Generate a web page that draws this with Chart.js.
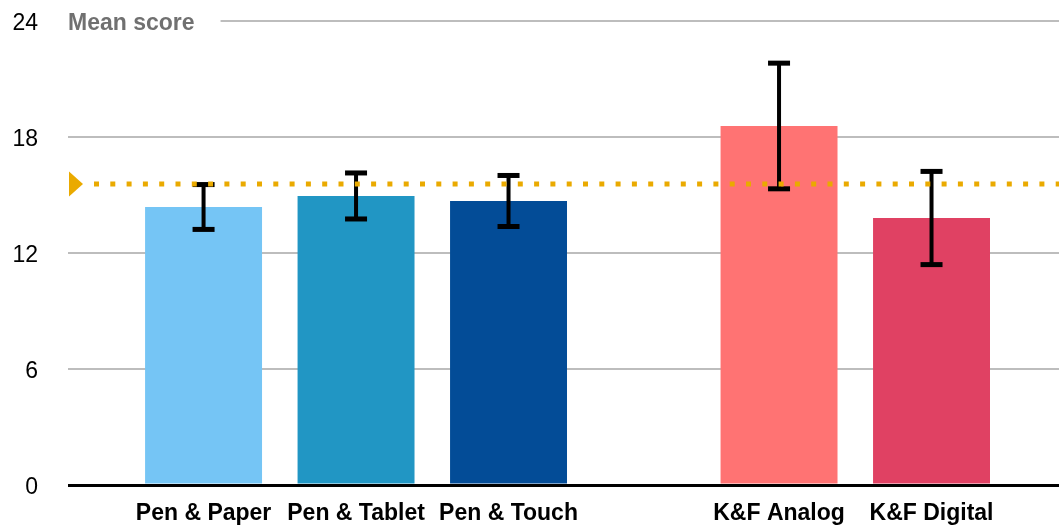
<!DOCTYPE html>
<html>
<head>
<meta charset="utf-8">
<script src="https://cdn.jsdelivr.net/npm/chart.js@4"></script>
<style>
  html, body { margin: 0; padding: 0; background: #ffffff; overflow: hidden; }
  #wrap { width: 1059px; height: 525px; position: relative; }
  canvas { display: block; }
</style>
</head>
<body>
<div id="wrap"><canvas id="chart" width="1059" height="525"></canvas></div>
<script>
// Chart data
const categories = ['Pen & Paper', 'Pen & Tablet', 'Pen & Touch', 'K&F Analog', 'K&F Digital'];
const groups = [0, 0, 0, 1, 1];
const meanScores = [14.38, 14.95, 14.69, 18.57, 13.81];
const errorMargins = [1.16, 1.19, 1.32, 3.25, 2.41];
const referenceScore = 15.57;
const yTicks = [0, 6, 12, 18, 24];
const axisTitle = 'Mean score';

// Styling
const barColors = ['#75C5F5', '#2196C4', '#034C97', '#FF7373', '#E04163'];
const FONT = '"Liberation Sans", Helvetica, Arial, sans-serif';
const groupGap = 0.774;   // extra space between the two groups, in category units

const positions = categories.map((_, i) => i + groups[i] * groupGap);

// Title text sitting on the top grid line
const titlePlugin = {
  id: 'axisTitle',
  beforeDatasetsDraw(chart) {
    const { ctx, chartArea, scales } = chart;
    const y = scales.y.getPixelForValue(yTicks[yTicks.length - 1]);
    ctx.save();
    ctx.font = 'bold 23px ' + FONT;
    const w = ctx.measureText(axisTitle).width;
    ctx.fillStyle = '#ffffff';
    ctx.fillRect(chartArea.left - 2, y - 6, w + 28, 12);
    ctx.fillStyle = '#707070';
    ctx.textAlign = 'left';
    ctx.textBaseline = 'middle';
    ctx.fillText(axisTitle, chartArea.left, y + 2.5);
    ctx.restore();
  }
};

// Error bars and the dotted reference line
const overlayPlugin = {
  id: 'overlay',
  afterDatasetsDraw(chart) {
    const { ctx, chartArea, scales } = chart;
    const yS = scales.y;
    const meta = chart.getDatasetMeta(0);
    ctx.save();
    ctx.fillStyle = '#000000';
    meta.data.forEach((bar, i) => {
      const hi = yS.getPixelForValue(meanScores[i] + errorMargins[i]);
      const lo = yS.getPixelForValue(meanScores[i] - errorMargins[i]);
      const x = bar.x;
      ctx.fillRect(x - 2, hi, 4, lo - hi);
      ctx.fillRect(x - 11, hi - 2.5, 22, 5);
      ctx.fillRect(x - 11, lo - 2.5, 22, 5);
    });

    const yr = yS.getPixelForValue(referenceScore);
    ctx.strokeStyle = '#EAAA00';
    ctx.lineWidth = 5;
    ctx.lineCap = 'butt';
    ctx.setLineDash([5, 11.3]);
    ctx.beginPath();
    ctx.moveTo(chartArea.left + 26, yr);
    ctx.lineTo(chartArea.right, yr);
    ctx.stroke();
    ctx.setLineDash([]);

    ctx.fillStyle = '#EAAA00';
    ctx.beginPath();
    ctx.moveTo(chartArea.left + 1, yr - 12.5);
    ctx.lineTo(chartArea.left + 15, yr);
    ctx.lineTo(chartArea.left + 1, yr + 12.5);
    ctx.closePath();
    ctx.fill();
    ctx.restore();
  }
};

new Chart(document.getElementById('chart'), {
  type: 'bar',
  data: {
    datasets: [{
      data: categories.map((c, i) => ({ x: positions[i], y: meanScores[i] })),
      backgroundColor: barColors,
      borderWidth: 0,
      barPercentage: 0.767,
      categoryPercentage: 1
    }]
  },
  options: {
    responsive: false,
    animation: false,
    layout: { padding: { top: 21, left: 0, right: 0, bottom: 0 } },
    plugins: { legend: { display: false }, tooltip: { enabled: false } },
    scales: {
      x: {
        type: 'linear',
        offset: false,
        min: -0.889,
        max: 5.61,
        grid: { display: false },
        border: { display: false },
        afterBuildTicks: (s) => { s.ticks = positions.map(v => ({ value: v })); },
        afterFit: (s) => { s.height = 40; s.paddingLeft = 0; s.paddingRight = 0; },
        ticks: {
          autoSkip: false,
          maxRotation: 0,
          minRotation: 0,
          padding: 7,
          color: '#000000',
          font: { family: FONT, size: 23, weight: 'bold' },
          callback: (v, i) => categories[i]
        }
      },
      y: {
        min: yTicks[0],
        max: yTicks[yTicks.length - 1],
        afterBuildTicks: (s) => { s.ticks = yTicks.map(v => ({ value: v })); },
        afterFit: (s) => { s.width = 68; s.paddingTop = 0; s.paddingBottom = 0; },
        border: { display: false },
        grid: {
          drawTicks: false,
          color: (c) => c.tick && c.tick.value === 0 ? '#000000' : '#bdbdbd',
          lineWidth: (c) => c.tick && c.tick.value === 0 ? 3 : 2
        },
        ticks: {
          padding: 30,
          labelOffset: 3,
          color: '#000000',
          font: { family: FONT, size: 23 }
        }
      }
    }
  },
  plugins: [titlePlugin, overlayPlugin]
});
</script>
</body>
</html>
